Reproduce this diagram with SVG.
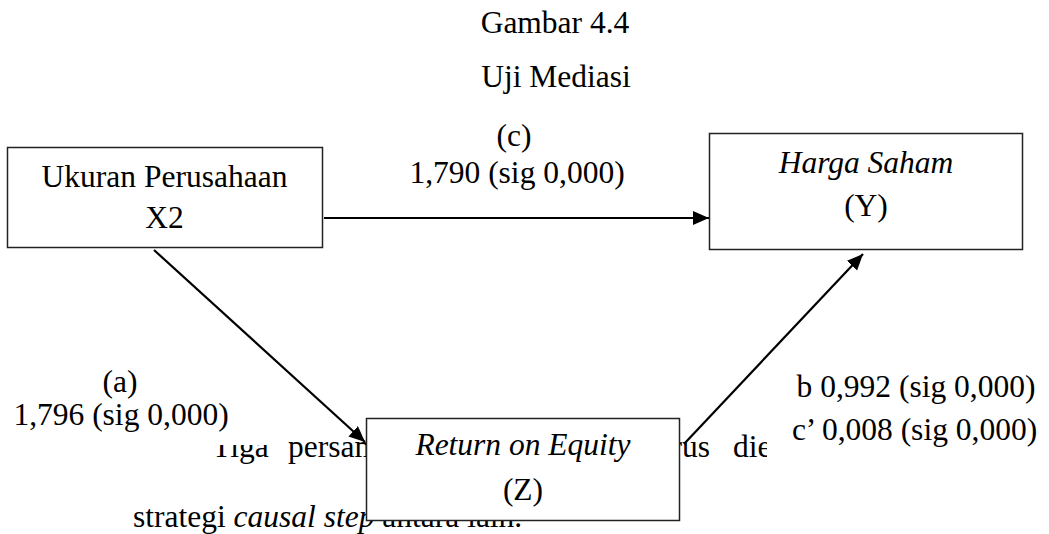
<svg xmlns="http://www.w3.org/2000/svg" width="1049" height="534" viewBox="0 0 1049 534">
<style>
  text { font-family: "Liberation Serif", "Times New Roman", serif; font-size: 31.5px; fill: #000; }
  .c { text-anchor: middle; }
  .i { font-style: italic; }
  .box { fill: #fff; stroke: #222; stroke-width: 1.5; }
  .edge { stroke: #000; stroke-width: 2.2; fill: none; marker-end: url(#ah); }
</style>
<defs>
  <marker id="ah" markerUnits="userSpaceOnUse" markerWidth="17" markerHeight="15" refX="16" refY="7" orient="auto">
    <path d="M0,0 L16,7 L0,14 z" fill="#000"/>
  </marker>
  <clipPath id="clipTiga"><rect x="0" y="445" width="400" height="40"/></clipPath>
  <clipPath id="clipDie"><rect x="700" y="400" width="67" height="80"/></clipPath>
</defs>
<rect width="1049" height="534" fill="#fff"/>

<g id="title">
  <text class="c" x="555" y="33">Gambar 4.4</text>
  <text class="c" x="556" y="87">Uji Mediasi</text>
</g>

<g id="background-paragraph">
  <text x="212" y="457" clip-path="url(#clipTiga)">Tiga</text>
  <text x="288" y="457">persam</text>
  <text x="671.5" y="457">rus</text>
  <text x="733" y="457" clip-path="url(#clipDie)">die</text>
  <text x="133" y="527">strategi <tspan class="i">causal step</tspan> antara lain.</text>
</g>

<g id="connectors">
  <line class="edge" x1="324" y1="218" x2="709" y2="218"/>
  <line class="edge" x1="154" y1="250" x2="365" y2="442"/>
  <line class="edge" x1="684" y1="444" x2="863" y2="254"/>
</g>

<g id="node-x2">
  <rect class="box" x="7.5" y="147.5" width="315" height="100"/>
  <text class="c" x="164.5" y="187">Ukuran Perusahaan</text>
  <text class="c" x="164.5" y="228">X2</text>
</g>

<g id="node-y">
  <rect class="box" x="709.5" y="133.5" width="313" height="116"/>
  <text class="c i" x="866" y="173">Harga Saham</text>
  <text class="c" x="866" y="216">(Y)</text>
</g>

<g id="node-z">
  <rect class="box" x="366.5" y="418.5" width="313" height="102"/>
  <text class="c i" x="523" y="455">Return on Equity</text>
  <text class="c" x="523" y="500">(Z)</text>
</g>

<g id="labels">
  <text class="c" x="514" y="146">(c)</text>
  <text class="c" x="517" y="183">1,790 (sig 0,000)</text>
  <text class="c" x="120" y="392">(a)</text>
  <text class="c" x="121" y="425">1,796 (sig 0,000)</text>
  <text class="c" x="916" y="397">b 0,992 (sig 0,000)</text>
  <text class="c" x="914.5" y="440">c’ 0,008 (sig 0,000)</text>
</g>
</svg>
